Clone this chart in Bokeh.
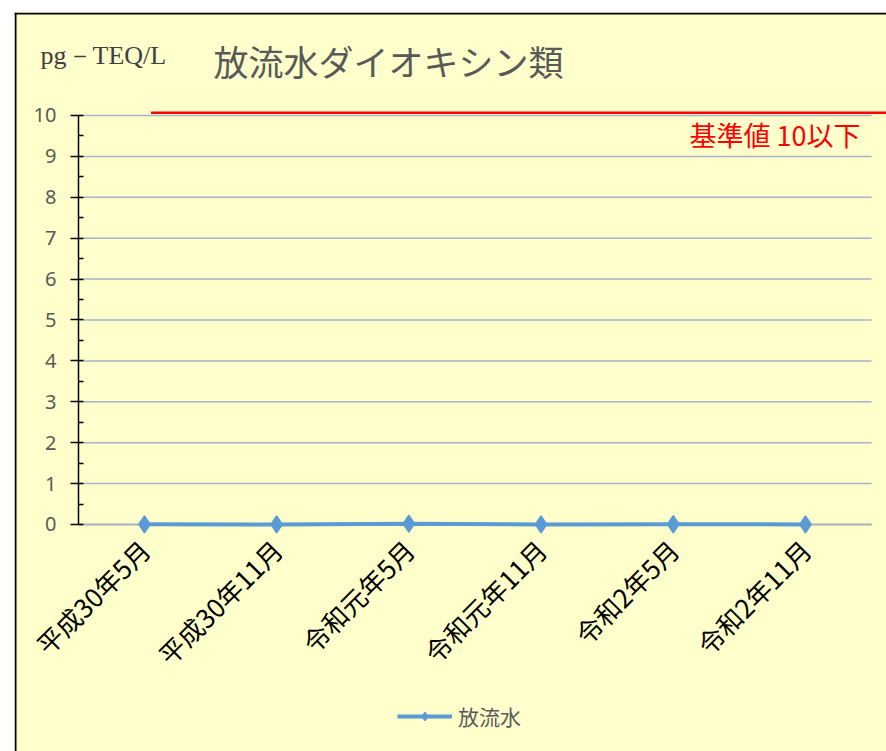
import math
from bokeh.plotting import figure
from bokeh.models import (Label, Legend, LegendItem, ColumnDataSource, Range1d,
                          SingleIntervalTicker, FixedTicker, Span)
from bokeh.embed import file_html
from bokeh.resources import INLINE

# ---- data ----
categories = ["平成30年5月", "平成30年11月", "令和元年5月", "令和元年11月", "令和2年5月", "令和2年11月"]
values = [0.005, 0.001, 0.02, 0.001, 0.006, 0.002]
series_name = "放流水"
standard_level = 10.07          # 基準値 line (drawn just above the 10 gridline)
standard_text = "基準値 10以下"
title_text = "放流水ダイオキシン類"
unit_text = "pg－TEQ/L"
y_ticks = list(range(0, 11))

BG = "#FFFFCC"
BLUE = "#5B9BD5"
GRAY = "#595959"
GRID = "#A6B3C8"
JP = "Noto Sans CJK JP"

n = len(categories)
x_idx = list(range(n))

p = figure(x_range=Range1d(-0.983, 5.613), y_range=Range1d(-5.55, 12.518),
           width=886, height=751, output_backend="svg", toolbar_location=None,
           min_border_left=14, min_border_top=12, min_border_right=0, min_border_bottom=0,
           background_fill_color=BG, border_fill_color="white", outline_line_color=None)

# chart border (left / top)
p.add_layout(Span(location=1, location_units="screen", dimension="height",
                  line_color="#000000", line_width=2))
p.add_layout(Span(location=738, location_units="screen", dimension="width",
                  line_color="#000000", line_width=2))

# y axis (drawn at left edge of first category slot)
p.yaxis.fixed_location = -0.5
p.yaxis.ticker = SingleIntervalTicker(interval=1, num_minor_ticks=2)
p.yaxis.bounds = (y_ticks[0], y_ticks[-1])
p.yaxis.axis_line_color = "#000000"
p.yaxis.axis_line_width = 1.5
p.yaxis.major_tick_line_color = "#000000"
p.yaxis.major_tick_line_width = 1.5
p.yaxis.major_tick_out = 8
p.yaxis.major_tick_in = 0
p.yaxis.minor_tick_line_color = "#000000"
p.yaxis.minor_tick_line_width = 1.5
p.yaxis.minor_tick_in = 5
p.yaxis.minor_tick_out = 0
p.yaxis.major_label_text_font = "Noto Sans"
p.yaxis.major_label_text_font_size = "20px"
p.yaxis.major_label_text_color = GRAY
p.yaxis.major_label_standoff = 14

# x axis (category labels), drawn beneath the data line
p.xaxis.fixed_location = 0
p.xaxis.level = "underlay"
p.xaxis.bounds = (-0.5, n - 0.5)
p.xaxis.ticker = FixedTicker(ticks=x_idx)
p.xaxis.major_label_overrides = {i: c for i, c in zip(x_idx, categories)}
p.xaxis.axis_line_color = "#898989"
p.xaxis.axis_line_width = 1.5
p.xaxis.major_tick_line_color = None
p.xaxis.minor_tick_line_color = None
p.xaxis.major_label_orientation = math.pi / 4
p.xaxis.major_label_text_font = JP
p.xaxis.major_label_text_font_size = "26px"
p.xaxis.major_label_text_color = "#000000"
p.xaxis.major_label_standoff = 14

p.xgrid.visible = False
p.ygrid.visible = False

# horizontal gridlines across the category area
p.segment(x0=[-0.5] * len(y_ticks), x1=[n - 0.5] * len(y_ticks), y0=y_ticks, y1=y_ticks,
          line_color=GRID, line_width=1.5)

# standard line
p.line(x=[0.05, n], y=[standard_level, standard_level], line_color="#FF0000", line_width=2.5)

# series
src = ColumnDataSource(dict(x=x_idx, y=values))
lr = p.line(x="x", y="y", source=src, line_color=BLUE, line_width=4)
sr = p.scatter(x="x", y="y", source=src, marker="diamond", size=17,
               fill_color=BLUE, line_color=BLUE, line_width=1.5)

legend = Legend(items=[LegendItem(label=series_name, renderers=[lr, sr])],
                location=(383, 20), orientation="horizontal",
                glyph_width=55, glyph_height=20, label_height=20,
                label_text_font=JP, label_text_font_size="21px", label_text_color=GRAY,
                background_fill_alpha=0, border_line_color=None, padding=0, margin=0,
                label_standoff=6)
p.add_layout(legend)

# texts
p.add_layout(Label(x=199, y=691, x_units="screen", y_units="screen", text=title_text,
                   text_font=JP, text_font_size="35px", text_color=GRAY,
                   text_baseline="middle", text_align="left"))
p.add_layout(Label(x=26, y=696, x_units="screen", y_units="screen", text=unit_text,
                   text_font="Liberation Serif", text_font_size="26px", text_color="#404040",
                   text_baseline="middle", text_align="left"))
p.add_layout(Label(x=846, y=617, x_units="screen", y_units="screen", text=standard_text,
                   text_font=JP, text_font_size="27px", text_color="#FF0000",
                   text_baseline="middle", text_align="right"))

open("out.html", "w").write(file_html(p, INLINE))
